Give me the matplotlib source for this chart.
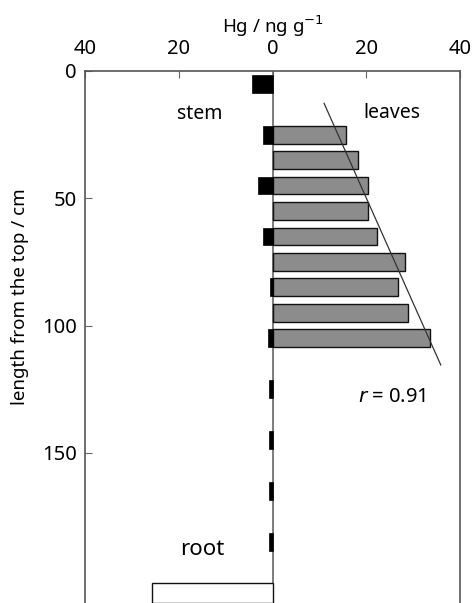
import matplotlib
matplotlib.use("Agg")
import matplotlib.pyplot as plt
import numpy as np

plt.rcParams['font.family'] = ['Noto Sans', 'DejaVu Sans']

# --- data ---
leaf_depth = [25, 35, 45, 55, 65, 75, 85, 95, 105]
leaf_hg = [15.7, 18.2, 20.3, 20.3, 22.3, 28.2, 26.8, 28.9, 33.5]

stem_depth = [5, 25, 45, 65, 85, 105, 125, 145, 165, 185]
stem_hg = [4.3, 2.1, 3.2, 2.1, 0.5, 1.0, 0.8, 0.8, 0.8, 0.8]

root_depth = [205]
root_hg = [25.7]

fit_depth = [12.7, 115.5]
fit_hg = [11.0, 35.9]

x_ticks = [-40, -20, 0, 20, 40]
x_ticklabels = ['40', '20', '0', '20', '40']
y_ticks = [0, 50, 100, 150]

fig = plt.figure(figsize=(4.72, 6.03), dpi=100)
ax = fig.add_axes([85/472, 0.0, (460-85)/472, (603-71)/603])

edge = '#111111'
ax.barh(leaf_depth, leaf_hg, height=7, left=0, color='#8c8c8c', edgecolor=edge, linewidth=1.0, zorder=3)
ax.barh(stem_depth, [-v for v in stem_hg], height=7, left=0, color='black', edgecolor='black', linewidth=0.5, zorder=3)
ax.barh(root_depth, [-v for v in root_hg], height=8, left=0, color='white', edgecolor=edge, linewidth=1.0, zorder=3)

ax.plot(fit_hg, fit_depth, color='#333333', linewidth=0.9, zorder=4)
ax.axvline(0, color='#666666', linewidth=1.2, zorder=2)

ax.set_xlim(-40, 40)
ax.set_ylim(209, 0)

ax.xaxis.tick_top()
ax.xaxis.set_label_position('top')
ax.set_xticks(x_ticks)
ax.set_xticklabels(x_ticklabels)
ax.set_yticks(y_ticks)
ax.tick_params(axis='both', direction='in', length=5, width=0.8, color='#666666',
               labelsize=14.5, pad=6)
ax.tick_params(axis='x', pad=9)

ax.set_xlabel('Hg / ng g$^{-1}$', fontsize=13.5, labelpad=4)
ax.set_ylabel('length from the top / cm', fontsize=13.5)
ax.yaxis.set_label_coords(-0.15, 0.575)

for side in ['top', 'left', 'right']:
    ax.spines[side].set_color('#555555')
    ax.spines[side].set_linewidth(1.2)
ax.spines['bottom'].set_visible(False)

ax.text(-15.5, 17, 'stem', fontsize=14, ha='center', va='center')
ax.text(25.5, 16.5, 'leaves', fontsize=14, ha='center', va='center')
ax.text(25.5, 128, r'$r$ = 0.91', fontsize=14.5, ha='center', va='center')
ax.text(-15, 188, 'root', fontsize=16, ha='center', va='center')

fig.savefig('out.png', dpi=100)
